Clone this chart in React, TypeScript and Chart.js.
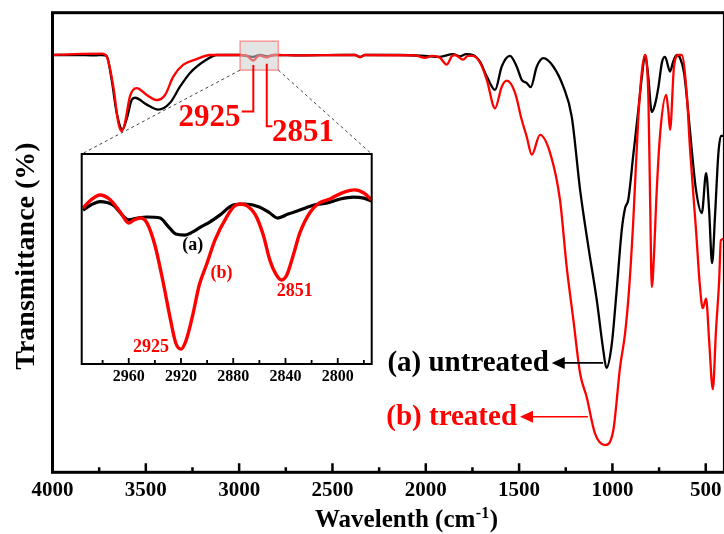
import React, { useEffect, useRef } from "react";
import { Chart, registerables } from "chart.js";

Chart.register(...registerables);

const FONT = "'Liberation Serif', 'Times New Roman', serif";

// ---- main axis ticks ----
const X_TICKS = [4000, 3500, 3000, 2500, 2000, 1500, 1000, 500];
const X_MINOR = [3750, 3250, 2750, 2250, 1750, 1250, 750];

// ---- inset axis ticks ----
const INSET_TICKS = [2960, 2920, 2880, 2840, 2800];
const INSET_MINOR = [2980, 2940, 2900, 2860, 2820, 2780];

// ---- (a) untreated : wavenumber (cm-1) / transmittance (a.u.) ----
const UNTREATED_WN = [4000, 3879, 3772, 3735, 3710, 3683, 3656, 3625, 3599, 3576, 3558, 3495, 3433, 3370, 3317, 3263, 3174, 3120, 2995, 2926, 2888, 2851, 2808, 2674, 2459, 2379, 2352, 2326, 2138, 2004, 1924, 1854, 1817, 1784, 1747, 1709, 1673, 1629, 1593, 1549, 1513, 1486, 1459, 1438, 1405, 1370, 1317, 1263, 1218, 1173, 1129, 1084, 1049, 1032, 1004, 977, 950, 932, 915, 888, 861, 841, 825, 809, 789, 772, 754, 734, 718, 691, 675, 655, 638, 616, 595, 575, 552, 521, 498, 482, 466, 450, 432, 418, 400];
const UNTREATED_T = [90.8, 90.8, 90.7, 90.8, 90.6, 85.4, 78.2, 74.6, 77.4, 81.0, 81.5, 80.0, 78.9, 80.4, 83.9, 86.9, 89.8, 90.8, 90.8, 90.4, 90.8, 90.5, 90.8, 90.7, 90.8, 90.8, 90.4, 90.8, 90.8, 90.6, 90.4, 91.0, 90.5, 91.0, 90.8, 89.3, 86.1, 83.2, 88.3, 90.6, 88.3, 85.4, 84.7, 83.8, 88.3, 90.1, 88.3, 83.9, 77.4, 61.4, 49.1, 37.5, 26.6, 22.7, 27.7, 39.7, 52.7, 57.5, 59.3, 69.1, 78.9, 86.5, 90.8, 86.5, 78.4, 80.0, 83.7, 89.3, 90.4, 87.2, 89.3, 90.8, 90.2, 86.9, 78.9, 70.2, 61.4, 56.4, 65.1, 57.1, 45.5, 56.0, 69.5, 73.2, 73.2];

// ---- (b) treated ----
const TREATED_WN = [4000, 3879, 3736, 3710, 3674, 3647, 3629, 3612, 3585, 3549, 3495, 3442, 3397, 3353, 3299, 3227, 3156, 2995, 2963, 2924, 2893, 2852, 2818, 2674, 2379, 2352, 2326, 2058, 2004, 1966, 1924, 1888, 1859, 1843, 1800, 1774, 1747, 1709, 1673, 1629, 1593, 1566, 1522, 1486, 1459, 1432, 1388, 1334, 1281, 1245, 1209, 1173, 1138, 1093, 1040, 995, 959, 932, 911, 888, 861, 841, 825, 807, 798, 789, 776, 765, 744, 712, 701, 691, 670, 647, 629, 602, 584, 552, 531, 516, 498, 482, 462, 445, 428, 419, 400];
const TREATED_T = [90.8, 91.0, 91.1, 90.5, 83.9, 76.0, 74.2, 76.0, 81.8, 83.6, 82.1, 81.0, 82.1, 86.1, 88.7, 89.9, 90.8, 90.8, 90.7, 89.6, 90.7, 90.3, 90.8, 90.7, 90.8, 90.3, 90.8, 90.7, 90.2, 90.6, 90.2, 88.7, 90.6, 90.8, 89.8, 90.6, 90.6, 89.1, 85.4, 79.2, 83.9, 85.2, 82.6, 76.7, 73.0, 69.1, 73.4, 69.5, 59.3, 44.7, 33.1, 21.5, 16.4, 8.4, 5.9, 9.2, 22.9, 30.3, 39.7, 54.9, 77.4, 87.6, 90.8, 81.0, 59.3, 40.3, 48.4, 59.3, 73.8, 82.1, 78.9, 74.5, 88.3, 90.8, 90.8, 82.5, 70.2, 52.7, 40.4, 35.7, 37.8, 28.8, 18.1, 30.9, 41.8, 50.5, 50.8];

// ---- inset (zoom 2995-2774 cm-1) ----
const ZOOM_UNTREATED_WN = [2995, 2989, 2982, 2972, 2960, 2953, 2946, 2936, 2930, 2924, 2917, 2911, 2905, 2898, 2890, 2880, 2871, 2860, 2852, 2846, 2838, 2829, 2818, 2808, 2798, 2788, 2780, 2774];
const ZOOM_UNTREATED_T = [73.3, 75.7, 77.3, 75.7, 68.6, 69.5, 70, 69.5, 65.7, 61.9, 61.4, 62.9, 65.2, 67.6, 71, 75.7, 76.2, 74.8, 71.9, 69.5, 71.4, 73.3, 75.7, 76.7, 78.6, 79.5, 79, 77.6];
const ZOOM_TREATED_WN = [2995, 2989, 2982, 2974, 2966, 2960, 2956, 2951, 2946, 2940, 2934, 2928, 2924, 2920, 2916, 2911, 2906, 2900, 2894, 2885, 2879, 2875, 2869, 2863, 2857, 2852, 2847, 2843, 2839, 2834, 2829, 2821, 2814, 2806, 2797, 2787, 2780, 2774];
const ZOOM_TREATED_T = [74.3, 78.1, 80.5, 78.1, 71.9, 67.1, 68.6, 69.5, 67.1, 56.7, 40, 21, 10, 7.1, 11.4, 23.3, 37.6, 48.1, 59, 70.1, 75.2, 76.2, 75.2, 71, 61.4, 49.5, 42.4, 40, 42.4, 51.9, 62.4, 72.4, 76.7, 78.6, 81.4, 82.9, 81.4, 78.1];

// layout
const MAIN_W = 740;
const MAIN_H = 534;
const INSET_LEFT = 62;
const INSET_TOP = 140;
const INSET_W = 320;
const INSET_H = 256;
const INSET_PAD = { left: 19.7, right: 10.3, top: 14 };

const RED = "#ff0000";

function pts(xs: number[], ys: number[]) {
  return xs.map((x, i) => ({ x, y: ys[i] }));
}

function leftArrow(ctx: CanvasRenderingContext2D, tip: number, end: number, y: number, color: string) {
  ctx.save();
  ctx.strokeStyle = color;
  ctx.fillStyle = color;
  ctx.lineWidth = 1.6;
  ctx.beginPath();
  ctx.moveTo(tip + 8, y);
  ctx.lineTo(end, y);
  ctx.stroke();
  ctx.beginPath();
  ctx.moveTo(tip, y);
  ctx.lineTo(tip + 13, y - 6);
  ctx.lineTo(tip + 13, y + 6);
  ctx.closePath();
  ctx.fill();
  ctx.restore();
}

const mainDecor = {
  id: "mainDecor",
  afterDatasetsDraw(chart: any) {
    const ctx: CanvasRenderingContext2D = chart.ctx;
    const x = chart.scales.x;
    const y = chart.scales.y;
    const a = chart.chartArea;
    const px = (v: number) => x.getPixelForValue(v);
    const py = (v: number) => y.getPixelForValue(v);
    ctx.save();

    // zoom box
    const bx1 = px(2995), bx2 = px(2790), by1 = py(93.8), by2 = py(87.5);
    ctx.fillStyle = "rgba(205,205,205,0.55)";
    ctx.fillRect(bx1, by1, bx2 - bx1, by2 - by1);
    ctx.strokeStyle = "rgba(255,80,80,0.55)";
    ctx.lineWidth = 1.5;
    ctx.strokeRect(bx1, by1, bx2 - bx1, by2 - by1);

    // dashed connectors to inset
    const itl = { x: INSET_LEFT + INSET_PAD.left, y: INSET_TOP + INSET_PAD.top };
    const itr = { x: INSET_LEFT + INSET_W - INSET_PAD.right, y: INSET_TOP + INSET_PAD.top };
    ctx.strokeStyle = "#444";
    ctx.lineWidth = 1;
    ctx.setLineDash([3, 3]);
    ctx.beginPath();
    ctx.moveTo(bx1, by2);
    ctx.lineTo(itl.x, itl.y);
    ctx.moveTo(bx2, by2);
    ctx.lineTo(itr.x, itr.y);
    ctx.stroke();
    ctx.setLineDash([]);

    // peak markers
    ctx.strokeStyle = RED;
    ctx.lineWidth = 2;
    ctx.beginPath();
    ctx.moveTo(px(2924), py(88.6));
    ctx.lineTo(px(2924), py(78.5));
    ctx.lineTo(px(2986), py(78.5));
    ctx.moveTo(px(2852), py(88.9));
    ctx.lineTo(px(2852), py(75.3));
    ctx.lineTo(px(2822), py(75.3));
    ctx.stroke();
    ctx.fillStyle = RED;
    ctx.font = `bold 31px ${FONT}`;
    ctx.textBaseline = "alphabetic";
    ctx.textAlign = "right";
    ctx.fillText("2925", px(2993), py(75.4));
    ctx.textAlign = "left";
    ctx.fillText("2851", px(2824), py(72.0));

    // frame
    ctx.strokeStyle = "#000";
    ctx.lineWidth = 3;
    ctx.strokeRect(a.left, a.top, a.right - a.left, a.bottom - a.top);

    // ticks (inward)
    ctx.lineWidth = 2.5;
    ctx.beginPath();
    X_TICKS.forEach((t) => {
      ctx.moveTo(px(t), a.bottom);
      ctx.lineTo(px(t), a.bottom - 9);
    });
    X_MINOR.forEach((t) => {
      ctx.moveTo(px(t), a.bottom);
      ctx.lineTo(px(t), a.bottom - 5);
    });
    ctx.stroke();

    // series labels with arrows
    ctx.font = `bold 29px ${FONT}`;
    ctx.textAlign = "right";
    ctx.fillStyle = "#000";
    const ay = py(23.8);
    const atip = px(1325);
    ctx.fillText("(a) untreated", atip - 3, ay + 8.5);
    leftArrow(ctx, atip, px(1050), ay, "#000");
    const byy = py(12.1);
    const btip = px(1495);
    ctx.fillStyle = RED;
    ctx.fillText("(b) treated", btip - 3, byy + 8.5);
    leftArrow(ctx, btip, px(1131), byy, RED);

    // axis titles
    ctx.fillStyle = "#000";
    ctx.textAlign = "left";
    const t1 = "Wavelenth (cm";
    const sup = "-1";
    const t2 = ")";
    ctx.font = `bold 25px ${FONT}`;
    const w1 = ctx.measureText(t1).width;
    const w2 = ctx.measureText(t2).width;
    ctx.font = `bold 16px ${FONT}`;
    const ws = ctx.measureText(sup).width;
    let sx = 406 - (w1 + ws + w2) / 2;
    const base = 527;
    ctx.font = `bold 25px ${FONT}`;
    ctx.fillText(t1, sx, base);
    sx += w1;
    ctx.font = `bold 16px ${FONT}`;
    ctx.fillText(sup, sx + 0.5, base - 9);
    sx += ws + 1;
    ctx.font = `bold 25px ${FONT}`;
    ctx.fillText(t2, sx, base);

    ctx.translate(34, 256);
    ctx.rotate(-Math.PI / 2);
    ctx.textAlign = "center";
    ctx.font = `bold 28px ${FONT}`;
    ctx.fillText("Transmittance (%)", 0, 0);
    ctx.restore();
  },
};

const insetDecor = {
  id: "insetDecor",
  afterDatasetsDraw(chart: any) {
    const ctx: CanvasRenderingContext2D = chart.ctx;
    const x = chart.scales.x;
    const y = chart.scales.y;
    const a = chart.chartArea;
    const px = (v: number) => x.getPixelForValue(v);
    const py = (v: number) => y.getPixelForValue(v);
    ctx.save();
    ctx.strokeStyle = "#000";
    ctx.lineWidth = 2;
    ctx.strokeRect(a.left, a.top, a.right - a.left, a.bottom - a.top);
    ctx.lineWidth = 1.8;
    ctx.beginPath();
    INSET_TICKS.forEach((t) => {
      ctx.moveTo(px(t), a.bottom);
      ctx.lineTo(px(t), a.bottom - 6);
    });
    INSET_MINOR.forEach((t) => {
      ctx.moveTo(px(t), a.bottom);
      ctx.lineTo(px(t), a.bottom - 4);
    });
    ctx.stroke();

    ctx.textAlign = "center";
    ctx.textBaseline = "middle";
    ctx.font = `bold 18px ${FONT}`;
    ctx.fillStyle = "#000";
    ctx.fillText("(a)", px(2911), py(56.7));
    ctx.fillStyle = RED;
    ctx.fillText("(b)", px(2889), py(43.3));
    ctx.fillText("2851", px(2833), py(34.8));
    ctx.fillText("2925", px(2943), py(8.1));
    ctx.restore();
  },
};

export default function App() {
  const mainRef = useRef<HTMLCanvasElement | null>(null);
  const insetRef = useRef<HTMLCanvasElement | null>(null);

  useEffect(() => {
    document.documentElement.style.overflow = "hidden";
    document.body.style.overflow = "hidden";
    if (!mainRef.current || !insetRef.current) return;

    const main = new Chart(mainRef.current, {
      type: "line",
      data: {
        datasets: [
          {
            label: "(a) untreated",
            data: pts(UNTREATED_WN, UNTREATED_T),
            borderColor: "#000",
            borderWidth: 2.3,
            pointRadius: 0,
            cubicInterpolationMode: "monotone",
            fill: false,
            order: 2,
          },
          {
            label: "(b) treated",
            data: pts(TREATED_WN, TREATED_T),
            borderColor: RED,
            borderWidth: 2.3,
            pointRadius: 0,
            cubicInterpolationMode: "monotone",
            fill: false,
            order: 1,
          },
        ],
      },
      options: {
        responsive: false,
        animation: false,
        events: [],
        layout: { padding: { left: 52.5, right: MAIN_W - 724.4, top: 12.7, bottom: 0 } },
        plugins: { legend: { display: false }, tooltip: { enabled: false } },
        scales: {
          x: {
            type: "linear",
            min: 400,
            max: 4000,
            reverse: true,
            grid: { display: false, drawTicks: false },
            border: { display: false },
            afterBuildTicks: (s: any) => {
              s.ticks = X_TICKS.map((v) => ({ value: v }));
            },
            afterFit: (s: any) => {
              s.height = MAIN_H - 472.3;
            },
            ticks: {
              font: { family: FONT, size: 21, weight: "bold" },
              color: "#000",
              padding: 6,
              maxRotation: 0,
              autoSkip: false,
              callback: (v: any) => String(v),
            },
          },
          y: { display: false, min: 0, max: 100 },
        },
      } as any,
      plugins: [mainDecor],
    });

    const inset = new Chart(insetRef.current, {
      type: "line",
      data: {
        datasets: [
          {
            label: "(a)",
            data: pts(ZOOM_UNTREATED_WN, ZOOM_UNTREATED_T),
            borderColor: "#000",
            borderWidth: 3.2,
            pointRadius: 0,
            cubicInterpolationMode: "monotone",
            fill: false,
            order: 2,
          },
          {
            label: "(b)",
            data: pts(ZOOM_TREATED_WN, ZOOM_TREATED_T),
            borderColor: RED,
            borderWidth: 3.4,
            pointRadius: 0,
            cubicInterpolationMode: "monotone",
            fill: false,
            order: 1,
          },
        ],
      },
      options: {
        responsive: false,
        animation: false,
        events: [],
        layout: { padding: { left: INSET_PAD.left, right: INSET_PAD.right, top: INSET_PAD.top, bottom: 0 } },
        plugins: { legend: { display: false }, tooltip: { enabled: false } },
        scales: {
          x: {
            type: "linear",
            min: 2774,
            max: 2996,
            reverse: true,
            grid: { display: false, drawTicks: false },
            border: { display: false },
            afterBuildTicks: (s: any) => {
              s.ticks = INSET_TICKS.map((v) => ({ value: v }));
            },
            afterFit: (s: any) => {
              s.height = INSET_H - 224;
            },
            ticks: {
              font: { family: FONT, size: 16, weight: "bold" },
              color: "#000",
              padding: 3,
              maxRotation: 0,
              autoSkip: false,
              callback: (v: any) => String(v),
            },
          },
          y: { display: false, min: 0, max: 100 },
        },
      } as any,
      plugins: [insetDecor],
    });

    return () => {
      main.destroy();
      inset.destroy();
    };
  }, []);

  return (
    <div style={{ position: "fixed", left: 0, top: 0, width: MAIN_W, height: MAIN_H, background: "#fff" }}>
      <canvas ref={mainRef} width={MAIN_W} height={MAIN_H} style={{ position: "absolute", left: 0, top: 0, display: "block" }} />
      <canvas
        ref={insetRef}
        width={INSET_W}
        height={INSET_H}
        style={{ position: "absolute", left: INSET_LEFT, top: INSET_TOP, display: "block" }}
      />
    </div>
  );
}
